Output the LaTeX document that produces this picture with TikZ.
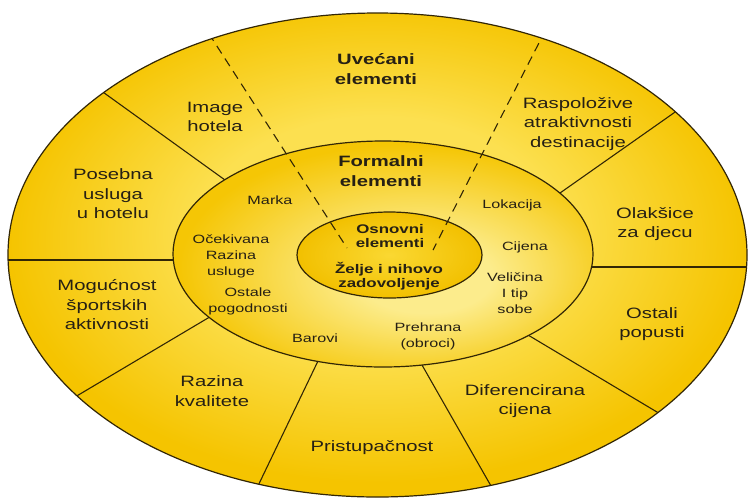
\documentclass[tikz,border=0pt]{standalone}
\usepackage{fontspec}
\newfontfamily\labf[FakeStretch=1.35]{Liberation Sans}
\usetikzlibrary{calc}
\definecolor{olight}{RGB}{252,224,80}
\definecolor{ogold}{RGB}{245,196,0}
\definecolor{mlight}{RGB}{252,236,140}
\definecolor{mgold}{RGB}{245,198,5}
\definecolor{ilight}{RGB}{250,216,50}
\definecolor{igold}{RGB}{242,192,0}
\definecolor{edge}{RGB}{50,38,5}
\definecolor{txt}{RGB}{38,32,20}
\pgfdeclareradialshading{outershade}{\pgfpoint{0bp}{3bp}}{color(0bp)=(olight); color(12bp)=(olight); color(25bp)=(ogold); color(50bp)=(ogold)}
\pgfdeclareradialshading{midshade}{\pgfpoint{6bp}{-6bp}}{color(0bp)=(mlight); color(8bp)=(mlight); color(27bp)=(mgold); color(50bp)=(mgold)}
\pgfdeclareradialshading{innershade}{\pgfpoint{0bp}{0bp}}{color(0bp)=(ilight); color(25bp)=(igold); color(50bp)=(igold)}
\begin{document}
\begin{tikzpicture}[x=1pt,y=-1pt,
  divider/.style={draw=edge, line width=1.1pt, shorten <=-20pt, shorten >=-20pt},
  dashline/.style={draw=edge, line width=1.1pt, dash pattern=on 9pt off 6pt, shorten <=-8pt},
  rim/.style={draw=edge, line width=1.2pt},
  outerlab/.style={font=\labf\fontsize{15}{19.5}\selectfont, align=center, text=txt, inner sep=0pt},
  outerbold/.style={font=\labf\bfseries\fontsize{15}{19.5}\selectfont, align=center, text=txt, inner sep=0pt},
  midlab/.style={font=\labf\fontsize{12}{16}\selectfont, align=center, text=txt, inner sep=0pt},
  innerbold/.style={font=\labf\bfseries\fontsize{12.5}{14.5}\selectfont, align=center, text=txt, inner sep=0pt}]
\useasboundingbox (0,0) rectangle (749,499);
\fill[white] (0,0) rectangle (749,499);
\coordinate (oc) at (377.5,255);
\coordinate (mc) at (383,254);
\coordinate (ic) at (389.5,255);
% outer ellipse
\shade[shading=outershade] (oc) ellipse [x radius=369.5pt, y radius=242pt];
% solid dividers of the outer ring
\coordinate (m1) at (225,180); \coordinate (o1) at (107,95);
\coordinate (m2) at (175,260); \coordinate (o2) at (8,260);
\coordinate (m3) at (208,318); \coordinate (o3) at (75,397);
\coordinate (m4) at (318,361); \coordinate (o4) at (256,490);
\coordinate (m5) at (422,365); \coordinate (o5) at (495,493);
\coordinate (m6) at (528,335); \coordinate (o6) at (667,418);
\coordinate (m7) at (590,267); \coordinate (o7) at (747,267);
\coordinate (m8) at (560,193); \coordinate (o8) at (678,110);
\begin{scope}
  \clip (oc) ellipse [x radius=369.5pt, y radius=242pt];
  \foreach \i in {1,...,8} { \draw[divider] (m\i) -- (o\i); }
\end{scope}
% middle and inner ellipses
\shadedraw[shading=midshade, rim] (mc) ellipse [x radius=210pt, y radius=113pt];
\shadedraw[shading=innershade, rim] (ic) ellipse [x radius=92.5pt, y radius=43pt];
% dashed lines
\coordinate (dl1) at (213,40); \coordinate (dl2) at (347,248);
\coordinate (dr1) at (542,37); \coordinate (dr2) at (433,250);
\begin{scope}
  \clip (oc) ellipse [x radius=369.5pt, y radius=242pt];
  \draw[dashline] (dl1) -- (dl2);
  \draw[dashline] (dr1) -- (dr2);
\end{scope}
\draw[rim] (oc) ellipse [x radius=369.5pt, y radius=242pt];
% outer ring labels
\node[outerbold] (uve) at (376,69) {Uvećani\\elementi};
\node[outerlab] (img) at (215,117) {Image\\hotela};
\node[outerlab] (pos) at (113,194) {Posebna\\usluga\\u hotelu};
\node[outerlab] (ras) at (578,124) {Raspoložive\\atraktivnosti\\destinacije};
\node[outerlab] (ola) at (655,224) {Olakšice\\za djecu};
\node[outerlab] (ost) at (652,324) {Ostali\\popusti};
\node[outerlab] (dif) at (525,401) {Diferencirana\\cijena};
\node[outerlab] (pri) at (372,448) {Pristupačnost};
\node[outerlab] (raz) at (212,391) {Razina\\kvalitete};
\node[outerlab] (mog) at (107,305) {Mogućnost\\športskih\\aktivnosti};
% middle ring labels
\node[outerbold] (for) at (381,171) {Formalni\\elementi};
\node[midlab] (mar) at (270,200) {Marka};
\node[midlab] (oce) at (231,256) {Očekivana\\Razina\\usluge};
\node[midlab] (osp) at (248,301) {Ostale\\pogodnosti};
\node[midlab] (bar) at (315,338) {Barovi};
\node[midlab] (pre) at (428,336) {Prehrana\\(obroci)};
\node[midlab] (vel) at (515,293) {Veličina\\I tip\\sobe};
\node[midlab] (cij) at (525,247) {Cijena};
\node[midlab] (lok) at (512,205) {Lokacija};
% inner labels
\node[innerbold] (osn) at (390,236) {Osnovni\\elementi};
\node[innerbold] (zel) at (389,276) {Želje i nihovo\\zadovoljenje};
\end{tikzpicture}
\end{document}
